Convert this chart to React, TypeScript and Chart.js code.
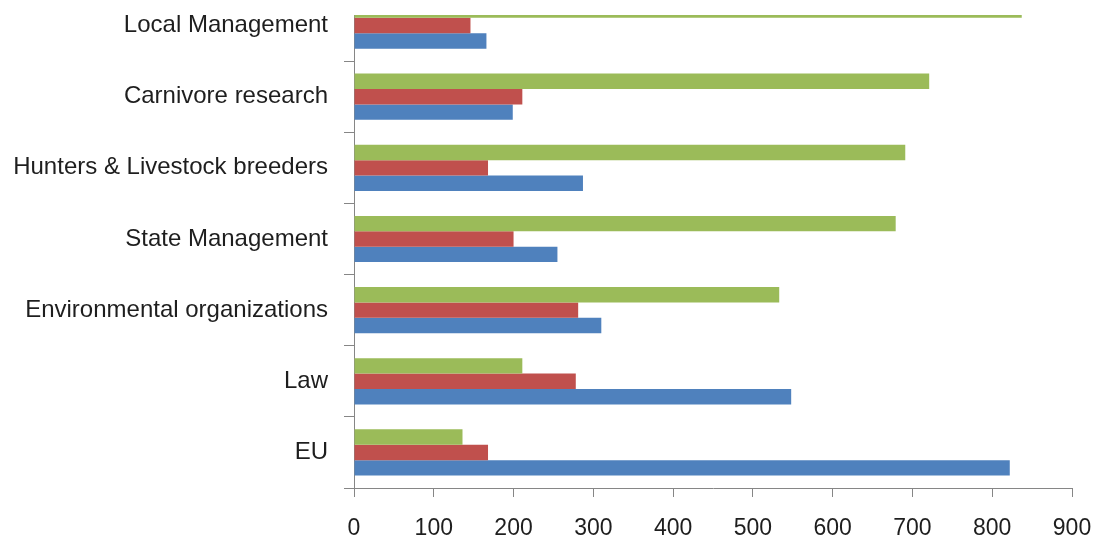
import React, { useEffect, useRef } from 'react';
import { Chart, registerables } from 'chart.js';

Chart.register(...registerables);

const categories = [
  'Local Management',
  'Carnivore research',
  'Hunters & Livestock breeders',
  'State Management',
  'Environmental organizations',
  'Law',
  'EU',
];
const series1 = [166, 199, 287, 255, 310, 548, 822]; // blue
const series2 = [146, 211, 168, 200, 281, 278, 168]; // red
const series3 = [837, 721, 691, 679, 533, 211, 136]; // green
const xMin = 0;
const xMax = 900;
const xStep = 100;

const AXIS_COLOR = '#868686';
const TEXT_COLOR = '#1e1e1e';
const FONT = 'Liberation Sans';

export default function App() {
  const ref = useRef<HTMLCanvasElement | null>(null);

  useEffect(() => {
    if (!ref.current) return;
    const chart = new Chart(ref.current, {
      type: 'bar',
      data: {
        labels: categories,
        datasets: [
          { label: 'Series3', data: series3, backgroundColor: '#9BBB59', borderWidth: 0 },
          { label: 'Series2', data: series2, backgroundColor: '#C0504D', borderWidth: 0 },
          { label: 'Series1', data: series1, backgroundColor: '#4F81BD', borderWidth: 0 },
        ],
      },
      options: {
        indexAxis: 'y',
        responsive: false,
        animation: false,
        layout: { padding: 0 },
        datasets: { bar: { categoryPercentage: 0.65, barPercentage: 1 } },
        plugins: { legend: { display: false }, tooltip: { enabled: false } },
        scales: {
          x: {
            type: 'linear',
            min: xMin,
            max: xMax,
            ticks: {
              stepSize: xStep,
              color: TEXT_COLOR,
              font: { family: FONT, size: 23 },
              padding: 18,
            },
            grid: {
              drawOnChartArea: false,
              drawTicks: true,
              tickLength: 9,
              color: AXIS_COLOR,
            },
            border: { display: true, color: AXIS_COLOR, width: 1 },
            afterFit: (s: any) => {
              s.height = 62;
              s.paddingLeft = 0;
              s.paddingRight = 21;
            },
          },
          y: {
            type: 'category',
            ticks: {
              color: TEXT_COLOR,
              font: { family: FONT, size: 24 },
              padding: 16,
            },
            grid: {
              drawOnChartArea: false,
              drawTicks: true,
              tickLength: 10,
              offset: true,
              color: AXIS_COLOR,
            },
            border: { display: true, color: AXIS_COLOR, width: 1 },
            afterFit: (s: any) => {
              s.width = 354;
              s.paddingTop = 0;
              s.paddingBottom = 0;
            },
          },
        },
      },
    });
    return () => chart.destroy();
  }, []);

  return (
    <div
      style={{
        position: 'absolute',
        left: 0,
        top: 0,
        width: 1093,
        height: 542,
        overflow: 'hidden',
        background: '#ffffff',
      }}
    >
      <div
        style={{
          position: 'absolute',
          left: 0,
          top: 15,
          width: 1093,
          height: 527,
          overflow: 'hidden',
        }}
      >
        <canvas
          ref={ref}
          width={1093}
          height={560}
          style={{ position: 'absolute', left: 0, top: -25, display: 'block' }}
        />
      </div>
    </div>
  );
}
